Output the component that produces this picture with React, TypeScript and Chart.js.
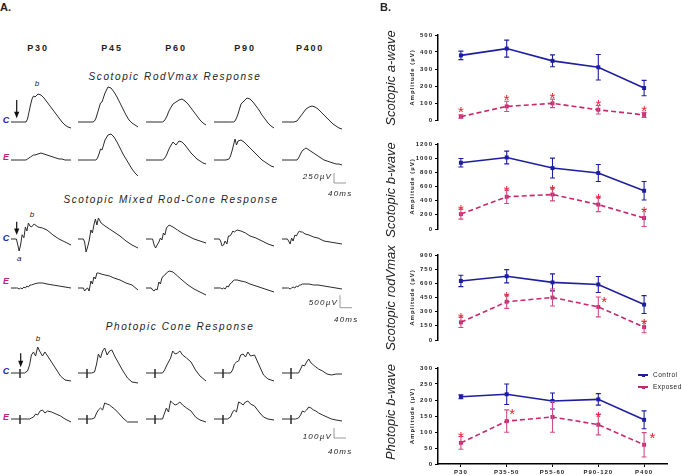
import React, { useEffect, useRef } from "react";
import { Chart, registerables } from "chart.js";

Chart.register(...registerables);
Chart.defaults.font.family = "'Liberation Sans', Arial, sans-serif";

// ---------------- Panel B data ----------------
const AGE_GROUPS = ["P30", "P35-50", "P55-60", "P90-120", "P400"];

const AWAVE_CONTROL = [380, 420, 348, 310, 188];
const AWAVE_CONTROL_SEM = [25, 50, 35, 75, 45];
const AWAVE_EXPOSED = [20, 80, 98, 60, 30];
const AWAVE_EXPOSED_SEM = [10, 30, 25, 25, 15];
const AWAVE_STARS = [68, 140, 150, 110, 75];

const BWAVE_CONTROL = [935, 1010, 860, 790, 540];
const BWAVE_CONTROL_SEM = [60, 90, 140, 120, 130];
const BWAVE_EXPOSED = [210, 455, 487, 345, 155];
const BWAVE_EXPOSED_SEM = [70, 95, 90, 100, 120];
const BWAVE_STARS = [320, 587, 604, 470, 290];

const RODVMAX_CONTROL = [625, 675, 610, 588, 375];
const RODVMAX_CONTROL_SEM = [60, 70, 90, 85, 95];
const RODVMAX_EXPOSED = [187, 405, 450, 350, 137];
const RODVMAX_EXPOSED_SEM = [55, 70, 90, 105, 60];
const RODVMAX_STARS = [275, 494, null, 444, 213];

const PHOTOPIC_CONTROL = [210, 218, 197, 202, 138];
const PHOTOPIC_CONTROL_SEM = [6, 32, 25, 18, 28];
const PHOTOPIC_EXPOSED = [66, 134, 147, 123, 60];
const PHOTOPIC_EXPOSED_SEM = [20, 35, 48, 32, 38];
const PHOTOPIC_STARS = [95, 168, null, 158, 93];

// ---------------- Panel A data (ERG traces, µV vs ms) ----------------
const TRACE_AGES = ["P30", "P45", "P60", "P90", "P400"];

const ROD_T = [0, 20, 40, 50, 55, 60, 65, 70, 75, 80, 90, 100, 110, 120, 130, 140, 150, 160, 170, 180, 190, 200];
const ROD_CONTROL = [
  [0, 0, 0, 0, 75, 250, 425, 575, 650, 625, 700, 675, 600, 500, 400, 300, 200, 100, 0, -75, -125, -150],
  [0, 0, 0, 0, 25, 100, 225, 350, 475, 500, 725, 875, 850, 750, 625, 475, 325, 175, 50, -25, -75, -125],
  [0, 0, 0, 0, 0, 25, 75, 150, 250, 325, 450, 500, 550, 575, 525, 450, 350, 250, 150, 50, -25, -75],
  [0, 0, 0, 0, 0, 0, 0, 25, 100, 200, 450, 525, 600, 575, 500, 400, 300, 175, 75, -25, -100, -150],
  [0, 0, 0, 25, 75, 125, 175, 225, 275, 325, 375, 400, 375, 325, 250, 175, 100, 25, -50, -100, -150, -175],
];
const ROD_EXPOSED = [
  [0, 0, 0, 0, 25, 50, 75, 100, 125, 125, 150, 175, 150, 125, 100, 75, 50, 25, 25, 0, 0, 0],
  [0, 0, 0, 0, 0, 0, 50, 150, 275, 250, 500, 625, 650, 575, 450, 300, 150, 25, -100, -225, -325, -400],
  [0, 0, 0, 0, 0, 25, 75, 150, 250, 325, 450, 375, 475, 450, 375, 275, 175, 100, 25, -25, -75, -100],
  [0, 0, 0, 25, 100, 225, 375, 525, 375, 475, 500, 450, 375, 300, 225, 150, 75, 0, -50, -100, -150, -175],
  [0, 0, 0, 0, 50, 125, 200, 250, 275, 300, 250, 200, 150, 100, 50, 0, -25, -50, -75, -100, -100, -125],
];

const MIXED_T = [0, 18, 22, 27, 32, 37, 43, 48, 53, 58, 63, 68, 77, 90, 105, 120, 140, 160, 180, 200];
const MIXED_CONTROL = [
  [0, 0, -200, -480, -240, 170, 50, 480, 320, 640, 520, 480, 600, 480, 440, 360, 160, 0, -120, -240],
  [0, 0, -120, -520, -320, -80, 360, 240, 560, 800, 560, 840, 640, 520, 400, 280, 120, -80, -240, -360],
  [0, 0, 0, -240, -360, -240, -120, 40, -40, 240, 160, 440, 560, 480, 360, 240, 120, 0, -80, -160],
  [0, 0, -80, -280, -240, -80, -200, 120, 120, 200, 320, 280, 360, 320, 240, 120, 40, -80, -200, -280],
  [0, 0, -80, -200, 40, -80, 160, 120, 240, 320, 280, 280, 200, 160, 80, 40, -80, -120, -160, -200],
];
const MIXED_EXPOSED = [
  [0, 0, 0, -40, 0, -40, 40, 0, 80, 40, 120, 120, 160, 200, 200, 160, 120, 80, 40, 0],
  [0, 0, -120, -40, 0, -120, 280, 160, 440, 360, 600, 600, 560, 520, 480, 400, 320, 200, 120, -80],
  [0, 0, -80, -120, -40, -80, 240, 160, 400, 480, 520, 600, 680, 640, 480, 320, 120, -40, -160, -280],
  [0, 0, 0, -40, 0, -40, 80, 40, 160, 200, 280, 320, 320, 280, 240, 160, 80, 0, -80, -160],
  [0, 0, 0, -40, 0, 40, 0, 80, 40, 120, 120, 160, 160, 160, 120, 120, 80, 40, 0, -40],
];

const CONE_T = [0, 30, 30, 30, 30, 45, 55, 62, 68, 75, 82, 89, 97, 105, 113, 122, 135, 150, 165, 180, 200];
const CONE_CONTROL = [
  [0, 0, 40, -50, 0, 0, 20, 80, 180, 210, 170, 260, 210, 170, 210, 170, 110, 40, -30, -70, -80],
  [0, 0, 40, -50, 0, 0, 10, 90, 190, 150, 220, 250, 180, 220, 230, 170, 100, 20, -50, -90, -100],
  [0, 0, 40, -50, 0, 0, 0, 30, 70, 110, 150, 220, 190, 200, 220, 180, 150, 110, 30, -30, -80],
  [0, 0, 40, -50, 0, 0, 0, 30, 90, 110, 120, 180, 190, 160, 210, 170, 180, 80, -20, -60, -80],
  [0, 0, 50, -60, 0, 0, 0, 40, 80, 70, 110, 140, 100, 80, 60, 40, 20, -10, -20, -10, -10],
];
const CONE_EXPOSED = [
  [0, 0, 40, -50, 0, 0, 0, 0, 10, 20, 50, 40, 80, 90, 60, 80, 70, 50, 30, 0, -30],
  [0, 0, 40, -50, 0, 0, 10, 60, 90, 110, 90, 160, 150, 140, 120, 100, 60, 10, -30, -30, -30],
  [0, 0, 40, -50, 0, 0, 0, 60, 110, 70, 180, 160, 140, 150, 170, 140, 110, 80, 20, -10, -30],
  [0, 0, 40, -50, 0, 0, 20, 70, 90, 70, 170, 160, 140, 170, 180, 150, 130, 70, 20, 0, -10],
  [0, 0, 40, -50, 0, 0, 10, 40, 80, 70, 90, 120, 110, 90, 80, 60, 40, 20, 0, -10, -20],
];

// ---------------- styling / layout ----------------
const BLUE = "#1e1ea0";
const MAGENTA = "#c8286e";
const MAGENTA_ERR = "#d24a86";
const STAR = "#e8202e";
const INK = "#222";
const FONT = "'Liberation Sans', Arial, sans-serif";

const TRACE_W = 60;
const TRACE_H = 64;
const TRACE_BASE = 40; // px from canvas top to baseline
const COL_X = [11, 78, 146, 214, 282];

const errorStarPlugin = {
  id: "errStars",
  beforeDraw(chart: any) {
    chart.ctx.letterSpacing = "1px";
  },
  afterDatasetsDraw(chart: any) {
    const ctx = chart.ctx;
    const x = chart.scales.x;
    const y = chart.scales.y;
    ctx.save();
    ctx.setLineDash([]);
    chart.data.datasets.forEach((ds: any) => {
      ctx.strokeStyle = ds.errorColor;
      ctx.lineWidth = 1.1;
      ds.data.forEach((v: number, i: number) => {
        const e = ds.errors[i];
        const px = x.getPixelForValue(i);
        const lo = y.getPixelForValue(v - e);
        const hi = y.getPixelForValue(v + e);
        ctx.beginPath();
        ctx.moveTo(px, lo);
        ctx.lineTo(px, hi);
        ctx.moveTo(px - 2.5, lo);
        ctx.lineTo(px + 2.5, lo);
        ctx.moveTo(px - 2.5, hi);
        ctx.lineTo(px + 2.5, hi);
        ctx.stroke();
      });
      if (ds.stars) {
        ctx.fillStyle = STAR;
        ctx.font = "15px " + FONT;
        ctx.textAlign = "center";
        ctx.textBaseline = "alphabetic";
        ctx.letterSpacing = "0px";
        ds.stars.forEach((s: number | null, i: number) => {
          if (s == null) return;
          const px = x.getPixelForValue(i + (ds.starShift[i] || 0));
          const py = y.getPixelForValue(s);
          ctx.fillText("*", px, py + 8.7);
        });
      }
    });
    ctx.restore();
  },
};

function GroupChart(props: any) {
  const { top, control, controlSem, exposed, exposedSem, stars, starShift, yMax, yStep, showX } = props;
  const ref = useRef<HTMLCanvasElement>(null);
  const H = showX ? 117 : 116;
  useEffect(() => {
    const chart = new Chart(ref.current as HTMLCanvasElement, {
      type: "line",
      data: {
        labels: AGE_GROUPS,
        datasets: [
          {
            label: "Control",
            data: control,
            errors: controlSem,
            errorColor: BLUE,
            borderColor: BLUE,
            backgroundColor: BLUE,
            borderWidth: 1.6,
            pointStyle: "rect",
            pointRadius: 2.8,
            pointBorderWidth: 0,
            tension: 0,
          },
          {
            label: "Exposed",
            data: exposed,
            errors: exposedSem,
            errorColor: MAGENTA_ERR,
            stars,
            starShift,
            borderColor: MAGENTA,
            backgroundColor: MAGENTA,
            borderWidth: 1.6,
            borderDash: [5, 3],
            pointStyle: "rect",
            pointRadius: 2.8,
            pointBorderWidth: 0,
            tension: 0,
          },
        ] as any,
      },
      options: {
        animation: false,
        responsive: false,
        events: [],
        layout: { padding: { top: 10, bottom: showX ? 0 : 10, left: 0, right: 15 } },
        plugins: { legend: { display: false }, tooltip: { enabled: false } },
        scales: {
          x: {
            type: "category",
            offset: true,
            display: showX,
            grid: { display: true, offset: false, drawOnChartArea: false, drawTicks: true, tickLength: 3, color: "#000", lineWidth: 1 },
            border: { display: true, color: "#000", width: 1.5 },
            ticks: { font: { size: 6, weight: "bold" }, color: INK, padding: 2, maxRotation: 0, autoSkip: false },
            afterFit: (s: any) => {
              s.height = 11;
            },
          } as any,
          y: {
            min: 0,
            max: yMax,
            ticks: {
              stepSize: yStep,
              font: { size: 6, weight: "bold" },
              color: INK,
              padding: 2,
              callback: (v: any) => String(v),
            },
            grid: { drawOnChartArea: false, drawTicks: true, tickLength: 3, color: "#000", lineWidth: 1 },
            border: { display: true, color: "#000", width: 1.5 },
            title: { display: true, text: "Amplitude (µV)", font: { size: 6, weight: "bold" }, color: INK, padding: { top: 31, bottom: 0 } },
            afterFit: (s: any) => {
              s.width = 60;
            },
          } as any,
        },
      },
      plugins: [errorStarPlugin as any],
    });
    return () => chart.destroy();
  }, []);
  return <canvas ref={ref} width={304} height={H} style={{ position: "absolute", left: 378, top }} />;
}

function Trace(props: any) {
  const { left, base, t, v, k } = props;
  const ref = useRef<HTMLCanvasElement>(null);
  useEffect(() => {
    const chart = new Chart(ref.current as HTMLCanvasElement, {
      type: "line",
      data: {
        datasets: [
          {
            data: t.map((x: number, i: number) => ({ x, y: v[i] })),
            borderColor: "#2a2a2a",
            borderWidth: 1,
            pointRadius: 0,
            tension: 0,
          },
        ],
      },
      options: {
        animation: false,
        responsive: false,
        events: [],
        layout: { padding: 0 },
        plugins: { legend: { display: false }, tooltip: { enabled: false } },
        scales: {
          x: { type: "linear", display: false, min: 0, max: 200 },
          y: { display: false, min: -(TRACE_H - TRACE_BASE) * k, max: TRACE_BASE * k },
        },
      },
    });
    return () => chart.destroy();
  }, []);
  return (
    <canvas ref={ref} width={TRACE_W} height={TRACE_H} style={{ position: "absolute", left, top: base - TRACE_BASE }} />
  );
}

function T(props: any) {
  const { x, y, size, children, bold, italic, color = INK, ls = 0, align = "left" } = props;
  const transform = align === "center" ? "translateX(-50%)" : align === "right" ? "translateX(-100%)" : undefined;
  return (
    <div
      style={{
        position: "absolute",
        left: x,
        top: y - size * 0.5,
        fontSize: size,
        lineHeight: `${size}px`,
        fontWeight: bold ? "bold" : "normal",
        fontStyle: italic ? "italic" : "normal",
        color,
        letterSpacing: ls,
        whiteSpace: "nowrap",
        transform,
      }}
    >
      {children}
    </div>
  );
}

function VTitle(props: any) {
  return (
    <div
      style={{
        position: "absolute",
        left: props.x,
        top: props.y,
        fontSize: 13,
        lineHeight: "13px",
        fontStyle: "italic",
        color: INK,
        whiteSpace: "nowrap",
        transform: "translate(-50%,-50%) rotate(-90deg)",
      }}
    >
      {props.children}
    </div>
  );
}

const ROWS = [
  { t: ROD_T, c: ROD_CONTROL, e: ROD_EXPOSED, k: 25, cBase: 121.7, eBase: 159.5 },
  { t: MIXED_T, c: MIXED_CONTROL, e: MIXED_EXPOSED, k: 40, cBase: 239, eBase: 288 },
  { t: CONE_T, c: CONE_CONTROL, e: CONE_EXPOSED, k: 10, cBase: 372.5, eBase: 419 },
];

const SCALE_BARS = [
  { x: 334, y: 183, uv: 250, k: 25, label: "250µV", ly: 177, ty: 194 },
  { x: 340, y: 307.7, uv: 500, k: 40, label: "500µV", ly: 303, ty: 320 },
  { x: 334, y: 438, uv: 100, k: 10, label: "100µV", ly: 436.7, ty: 451.7 },
];

const ARROWS = [
  { x: 16.7, y1: 100, y2: 118.3 },
  { x: 16.7, y1: 221.7, y2: 235 },
  { x: 20.7, y1: 353.3, y2: 367.3 },
];

const HEADER_X = [38, 112, 176, 245, 310];

export default function App() {
  return (
    <div
      style={{
        position: "absolute",
        left: 0,
        top: 0,
        width: 682,
        height: 475,
        background: "#fff",
        overflow: "hidden",
        fontFamily: FONT,
      }}
    >
      {/* Panel A */}
      <T x={0} y={7.5} size={11} bold>
        A.
      </T>
      {TRACE_AGES.map((a, i) => (
        <T key={a} x={HEADER_X[i]} y={48} size={9} bold ls={1.8} align="center">
          {a}
        </T>
      ))}
      <T x={175} y={76.5} size={10} italic ls={1.6} align="center">
        Scotopic RodVmax Response
      </T>
      <T x={171} y={199.5} size={10} italic ls={1.6} align="center">
        Scotopic Mixed Rod-Cone Response
      </T>
      <T x={180} y={326.5} size={10} italic ls={1.6} align="center">
        Photopic Cone Response
      </T>
      <T x={37} y={84} size={8} italic align="center">
        b
      </T>
      <T x={32} y={215} size={8} italic align="center">
        b
      </T>
      <T x={19.3} y={259} size={8} italic align="center">
        a
      </T>
      <T x={38} y={339} size={8} italic align="center">
        b
      </T>
      {ROWS.map((r, ri) => (
        <React.Fragment key={"lab" + ri}>
          <T x={6} y={r.cBase - 1} size={9} bold italic color="#2525b5" align="center">
            C
          </T>
          <T x={6} y={ri === 1 ? r.eBase - 7 : r.eBase - 2} size={9} bold italic color="#cc2277" align="center">
            E
          </T>
        </React.Fragment>
      ))}
      {ROWS.map((r, ri) =>
        TRACE_AGES.map((a, ci) => (
          <React.Fragment key={"tr" + ri + a}>
            <Trace left={COL_X[ci]} base={r.cBase} t={r.t} v={r.c[ci]} k={r.k} />
            <Trace left={COL_X[ci]} base={r.eBase} t={r.t} v={r.e[ci]} k={r.k} />
          </React.Fragment>
        ))
      )}
      <svg width={370} height={475} style={{ position: "absolute", left: 0, top: 0 }}>
        {ARROWS.map((a, i) => (
          <g key={"ar" + i}>
            <line x1={a.x} y1={a.y1} x2={a.x} y2={a.y2 - 5} stroke="#111" strokeWidth={1.2} />
            <polygon points={`${a.x - 2.6},${a.y2 - 6.5} ${a.x + 2.6},${a.y2 - 6.5} ${a.x},${a.y2}`} fill="#111" />
          </g>
        ))}
        {SCALE_BARS.map((s, i) => (
          <g key={"sb" + i}>
            <line x1={s.x} y1={s.y - s.uv / s.k} x2={s.x} y2={s.y} stroke="#999" strokeWidth={1} />
            <line x1={s.x} y1={s.y} x2={s.x + (40 * TRACE_W) / 200} y2={s.y} stroke="#999" strokeWidth={1} />
          </g>
        ))}
      </svg>
      {SCALE_BARS.map((s, i) => (
        <React.Fragment key={"sbt" + i}>
          <T x={s.x - 2} y={s.ly} size={8} italic ls={1.2} align="right">
            {s.label}
          </T>
          <T x={s.x - 6} y={s.ty} size={8} italic ls={1.2}>
            40ms
          </T>
        </React.Fragment>
      ))}

      {/* Panel B */}
      <T x={380} y={7.5} size={11} bold>
        B.
      </T>
      <VTitle x={390} y={78}>
        Scotopic a-wave
      </VTitle>
      <VTitle x={390} y={190}>
        Scotopic b-wave
      </VTitle>
      <VTitle x={390} y={298}>
        Scotopic rodVmax
      </VTitle>
      <VTitle x={390} y={412}>
        Photopic b-wave
      </VTitle>
      <GroupChart
        top={25}
        control={AWAVE_CONTROL}
        controlSem={AWAVE_CONTROL_SEM}
        exposed={AWAVE_EXPOSED}
        exposedSem={AWAVE_EXPOSED_SEM}
        stars={AWAVE_STARS}
        starShift={[0, 0, 0, 0, 0]}
        yMax={500}
        yStep={100}
        showX={false}
      />
      <GroupChart
        top={134}
        control={BWAVE_CONTROL}
        controlSem={BWAVE_CONTROL_SEM}
        exposed={BWAVE_EXPOSED}
        exposedSem={BWAVE_EXPOSED_SEM}
        stars={BWAVE_STARS}
        starShift={[0, 0, 0, 0, 0]}
        yMax={1200}
        yStep={200}
        showX={false}
      />
      <GroupChart
        top={245}
        control={RODVMAX_CONTROL}
        controlSem={RODVMAX_CONTROL_SEM}
        exposed={RODVMAX_EXPOSED}
        exposedSem={RODVMAX_EXPOSED_SEM}
        stars={RODVMAX_STARS}
        starShift={[0, 0, 0, 0.13, 0]}
        yMax={900}
        yStep={150}
        showX={false}
      />
      <GroupChart
        top={358}
        control={PHOTOPIC_CONTROL}
        controlSem={PHOTOPIC_CONTROL_SEM}
        exposed={PHOTOPIC_EXPOSED}
        exposedSem={PHOTOPIC_EXPOSED_SEM}
        stars={PHOTOPIC_STARS}
        starShift={[0, 0.12, 0, 0, 0.18]}
        yMax={300}
        yStep={50}
        showX={true}
      />
      {/* legend */}
      <div style={{ position: "absolute", left: 638, top: 374.3, width: 10, height: 1.5, background: BLUE }} />
      <div style={{ position: "absolute", left: 641.5, top: 373.5, width: 3, height: 3, background: BLUE }} />
      <T x={653} y={375} size={6.5} ls={0.5}>
        Control
      </T>
      <div style={{ position: "absolute", left: 638, top: 386.3, width: 10, height: 1.5, background: MAGENTA }} />
      <div style={{ position: "absolute", left: 641.5, top: 385.5, width: 3, height: 3, background: MAGENTA }} />
      <T x={653} y={387} size={6.5} ls={0.5}>
        Exposed
      </T>
    </div>
  );
}
